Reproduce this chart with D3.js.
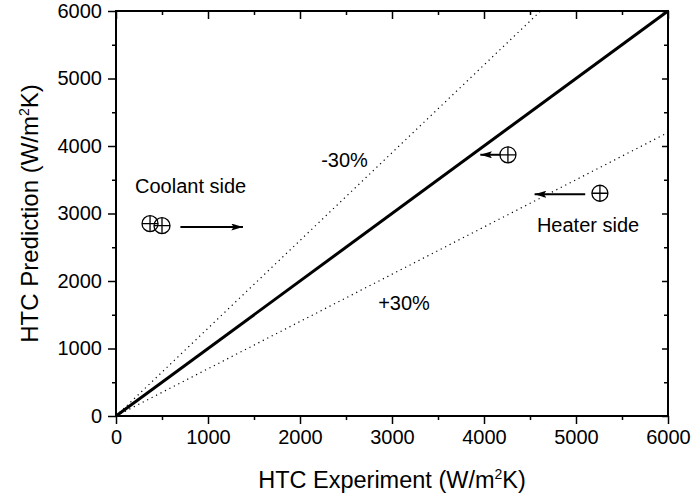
<!DOCTYPE html>
<html>
<head>
<meta charset="utf-8">
<script src="https://cdn.jsdelivr.net/npm/d3@7"></script>
<style>
  body { margin: 0; background: #fff; }
  svg { font-family: "Liberation Sans", Arial, sans-serif; }
</style>
</head>
<body>
<div id="chart"></div>
<script>
// Data
const xTicks = [0, 1000, 2000, 3000, 4000, 5000, 6000];
const yTicks = [0, 1000, 2000, 3000, 4000, 5000, 6000];
const parityLine = [[0, 0], [6000, 6000]];
const minus30Line = [[0, 0], [4615, 6000]];
const plus30Line = [[0, 0], [6000, 4200]];
const coolantX = [370, 500];
const coolantY = [2850, 2820];
const heaterX = [4260, 5260];
const heaterY = [3870, 3300];
// arrows: [x1, y1, x2, y2] (tail -> head)
const arrows = [
  [700, 2800, 1380, 2800],
  [4180, 3870, 3960, 3870],
  [5100, 3285, 4550, 3285]
];
const labels = [
  {text: "Coolant side", x: 207, y: 3304},
  {text: "Heater side", x: 4575, y: 2726},
  {text: "-30%", x: 2230, y: 3689},
  {text: "+30%", x: 2850, y: 1570}
];

// Sizes
const W = 691, H = 500;
const margin = {top: 11, right: 23, bottom: 84, left: 116};
const width = W - margin.left - margin.right;
const height = H - margin.top - margin.bottom;

const svg = d3.select("#chart")
  .append("svg")
  .attr("width", W)
  .attr("height", H);

const defs = svg.append("defs");
defs.append("marker")
  .attr("id", "head")
  .attr("viewBox", "0 0 10 6")
  .attr("refX", 10).attr("refY", 3)
  .attr("markerUnits", "userSpaceOnUse")
  .attr("markerWidth", 12).attr("markerHeight", 7)
  .attr("orient", "auto")
  .append("path")
  .attr("d", "M0,0 L10,3 L0,6 L2,3 Z")
  .attr("fill", "#000");

const g = svg.append("g")
  .attr("transform", `translate(${margin.left},${margin.top})`);

// Scales
const x = d3.scaleLinear().domain([0, 6000]).range([0, width]);
const y = d3.scaleLinear().domain([0, 6000]).range([height, 0]);
const minor = d3.range(500, 6000, 1000);

// Axes
function styleAxis(sel) {
  sel.select(".domain").remove();
  sel.selectAll("line").attr("stroke", "#000").attr("stroke-width", 1.5);
  sel.selectAll("text").attr("font-size", 20).attr("fill", "#000");
}

// bottom
g.append("g").attr("transform", `translate(0,${height})`)
  .call(d3.axisBottom(x).tickValues(xTicks).tickSize(8).tickPadding(6).tickFormat(d3.format("d")))
  .call(styleAxis);
g.append("g").attr("transform", `translate(0,${height})`)
  .call(d3.axisBottom(x).tickValues(minor).tickSize(4).tickFormat(""))
  .call(styleAxis);
// left
g.append("g")
  .call(d3.axisLeft(y).tickValues(yTicks).tickSize(8).tickPadding(6).tickFormat(d3.format("d")))
  .call(styleAxis);
g.append("g")
  .call(d3.axisLeft(y).tickValues(minor).tickSize(4).tickFormat(""))
  .call(styleAxis);
// top (inward)
g.append("g")
  .call(d3.axisBottom(x).tickValues(xTicks).tickSize(8).tickFormat(""))
  .call(styleAxis);
g.append("g")
  .call(d3.axisBottom(x).tickValues(minor).tickSize(4).tickFormat(""))
  .call(styleAxis);
// right (inward)
g.append("g").attr("transform", `translate(${width},0)`)
  .call(d3.axisLeft(y).tickValues(yTicks).tickSize(6).tickFormat(""))
  .call(styleAxis);
g.append("g").attr("transform", `translate(${width},0)`)
  .call(d3.axisLeft(y).tickValues(minor).tickSize(4).tickFormat(""))
  .call(styleAxis);

// frame
g.append("rect")
  .attr("width", width).attr("height", height)
  .attr("fill", "none").attr("stroke", "#000").attr("stroke-width", 2);

// Lines
const line = d3.line().x(d => x(d[0])).y(d => y(d[1]));
g.append("path").datum(minus30Line).attr("d", line)
  .attr("fill", "none").attr("stroke", "#000").attr("stroke-width", 1.2).attr("stroke-dasharray", "1.2,3.8");
g.append("path").datum(plus30Line).attr("d", line)
  .attr("fill", "none").attr("stroke", "#000").attr("stroke-width", 1.2).attr("stroke-dasharray", "1.2,3.8");
g.append("path").datum(parityLine).attr("d", line)
  .attr("fill", "none").attr("stroke", "#000").attr("stroke-width", 3);

// Arrows
g.selectAll(".arrow").data(arrows).enter().append("line")
  .attr("class", "arrow")
  .attr("x1", d => x(d[0])).attr("y1", d => y(d[1]))
  .attr("x2", d => x(d[2])).attr("y2", d => y(d[3]))
  .attr("stroke", "#000").attr("stroke-width", 2)
  .attr("marker-end", "url(#head)");

// Points (circled plus)
const pts = coolantX.map((v, i) => [v, coolantY[i]])
  .concat(heaterX.map((v, i) => [v, heaterY[i]]));
const r = 8;
const pt = g.selectAll(".pt").data(pts).enter().append("g")
  .attr("class", "pt")
  .attr("transform", d => `translate(${x(d[0])},${y(d[1])})`);
pt.append("circle").attr("r", r).attr("fill", "none").attr("stroke", "#000").attr("stroke-width", 1.3);
pt.append("path").attr("d", `M${-r},0H${r}M0,${-r}V${r}`).attr("stroke", "#000").attr("stroke-width", 1.3);

// Labels
g.selectAll(".lbl").data(labels).enter().append("text")
  .attr("class", "lbl")
  .attr("x", d => x(d.x)).attr("y", d => y(d.y))
  .attr("font-size", 20)
  .text(d => d.text);

// Axis titles
const xt = svg.append("text")
  .attr("x", margin.left + width / 2).attr("y", 488)
  .attr("text-anchor", "middle").attr("font-size", 23.5);
xt.append("tspan").text("HTC Experiment (W/m");
xt.append("tspan").attr("font-size", 14).attr("dy", -9).text("2");
xt.append("tspan").attr("dy", 9).text("K)");

const yt = svg.append("text")
  .attr("transform", `translate(38,${margin.top + height / 2}) rotate(-90)`)
  .attr("text-anchor", "middle").attr("font-size", 24);
yt.append("tspan").text("HTC Prediction (W/m");
yt.append("tspan").attr("font-size", 14).attr("dy", -9).text("2");
yt.append("tspan").attr("dy", 9).text("K)");
</script>
</body>
</html>
